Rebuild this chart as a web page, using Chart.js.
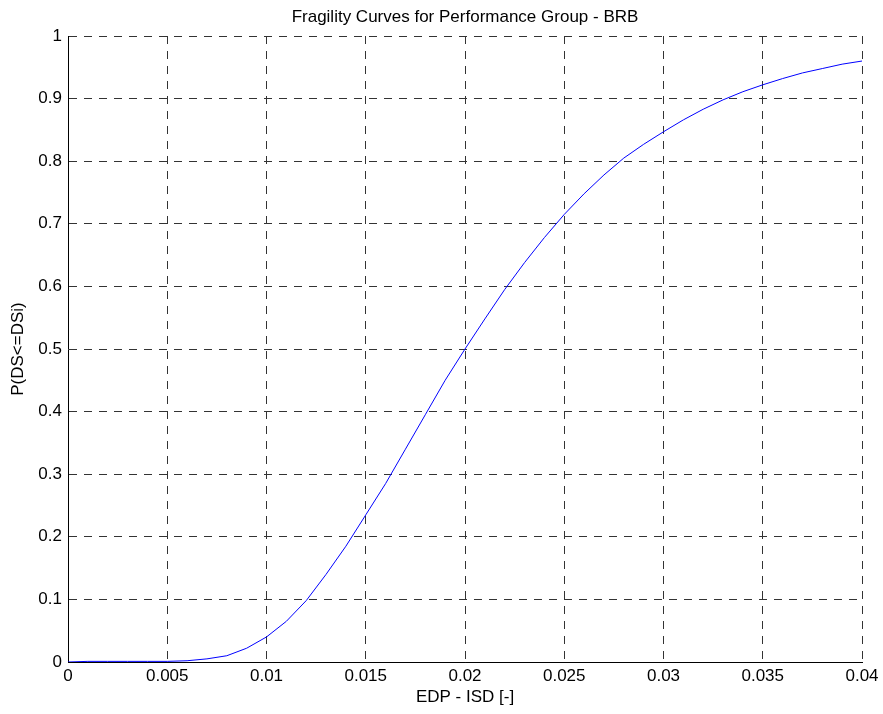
<!DOCTYPE html>
<html>
<head>
<meta charset="utf-8">
<script src="https://cdn.jsdelivr.net/npm/chart.js@4.4.1/dist/chart.umd.min.js"></script>
<style>
  html, body { margin: 0; padding: 0; background: #fff; }
  canvas { display: block; }
</style>
</head>
<body>
<canvas id="fragility" width="883" height="714"></canvas>
<script>
// EDP (interstory drift) sample points and read-off probabilities
const edp = [0, 0.001, 0.002, 0.003, 0.004, 0.005, 0.006, 0.007, 0.008, 0.009,
  0.010, 0.011, 0.012, 0.013, 0.014, 0.015, 0.016, 0.017, 0.018, 0.019,
  0.020, 0.021, 0.022, 0.023, 0.024, 0.025, 0.026, 0.027, 0.028, 0.029,
  0.030, 0.031, 0.032, 0.033, 0.034, 0.035, 0.036, 0.037, 0.038, 0.039, 0.040];
const prob = [0, 0.001, 0.001, 0.001, 0.001, 0.001, 0.002, 0.005, 0.010, 0.022,
  0.040, 0.065, 0.098, 0.140, 0.185, 0.235, 0.285, 0.340, 0.395, 0.450,
  0.500, 0.548, 0.595, 0.638, 0.678, 0.715, 0.748, 0.778, 0.805, 0.827,
  0.847, 0.866, 0.883, 0.898, 0.911, 0.922, 0.932, 0.941, 0.948, 0.955, 0.960];

const xTicks = ['0', '0.005', '0.01', '0.015', '0.02', '0.025', '0.03', '0.035', '0.04'];
const yTicks = ['0', '0.1', '0.2', '0.3', '0.4', '0.5', '0.6', '0.7', '0.8', '0.9', '1'];

const TITLE = 'Fragility Curves for Performance Group - BRB';
const FONT = 'Arial, "Liberation Sans", Helvetica, sans-serif';

const points = edp.map((x, i) => ({ x: x, y: prob[i] }));

// matlab centres the title over the axes box, not the whole figure
const axesTitle = {
  id: 'axesTitle',
  afterDraw(chart) {
    const { ctx, chartArea } = chart;
    ctx.save();
    ctx.font = '17px ' + FONT;
    ctx.fillStyle = '#000';
    ctx.textAlign = 'center';
    ctx.textBaseline = 'alphabetic';
    ctx.fillText(TITLE, (chartArea.left + chartArea.right) / 2, 22);
    ctx.restore();
  }
};

new Chart(document.getElementById('fragility'), {
  type: 'line',
  data: {
    datasets: [{
      label: 'BRB',
      data: points,
      borderColor: '#0000ff',
      borderWidth: 1,
      pointRadius: 0,
      tension: 0,
      fill: false
    }]
  },
  options: {
    responsive: false,
    animation: false,
    layout: { padding: { left: 0, right: 21, top: 36, bottom: 0 } },
    plugins: {
      legend: { display: false },
      tooltip: { enabled: false },
      title: { display: false }
    },
    scales: {
      x: {
        type: 'linear',
        min: 0,
        max: 0.04,
        afterBuildTicks: (s) => { s.ticks = xTicks.map(v => ({ value: parseFloat(v) })); },
        afterFit: (s) => { s.height = 52; },
        ticks: {
          color: '#000',
          padding: 4,
          maxRotation: 0,
          autoSkip: false,
          font: { family: FONT, size: 17 },
          callback: (v, i) => xTicks[i]
        },
        grid: { color: '#333', lineWidth: 1, drawTicks: false },
        border: { display: true, color: '#000', width: 1, dash: [8, 7] },
        title: {
          display: true,
          text: 'EDP - ISD [-]',
          color: '#000',
          font: { family: FONT, size: 17 },
          padding: { top: 0, bottom: 6 }
        }
      },
      y: {
        type: 'linear',
        min: 0,
        max: 1,
        afterBuildTicks: (s) => { s.ticks = yTicks.map(v => ({ value: parseFloat(v) })); },
        afterFit: (s) => { s.width = 68; },
        ticks: {
          color: '#000',
          padding: 6,
          autoSkip: false,
          font: { family: FONT, size: 17 },
          callback: (v, i) => yTicks[i]
        },
        grid: { color: '#333', lineWidth: 1, drawTicks: false },
        border: { display: true, color: '#000', width: 1, dash: [8, 7] },
        title: {
          display: true,
          text: 'P(DS<=DSi)',
          color: '#000',
          font: { family: FONT, size: 17 },
          padding: { top: 8, bottom: 0 }
        }
      }
    }
  },
  plugins: [axesTitle]
});
</script>
</body>
</html>
